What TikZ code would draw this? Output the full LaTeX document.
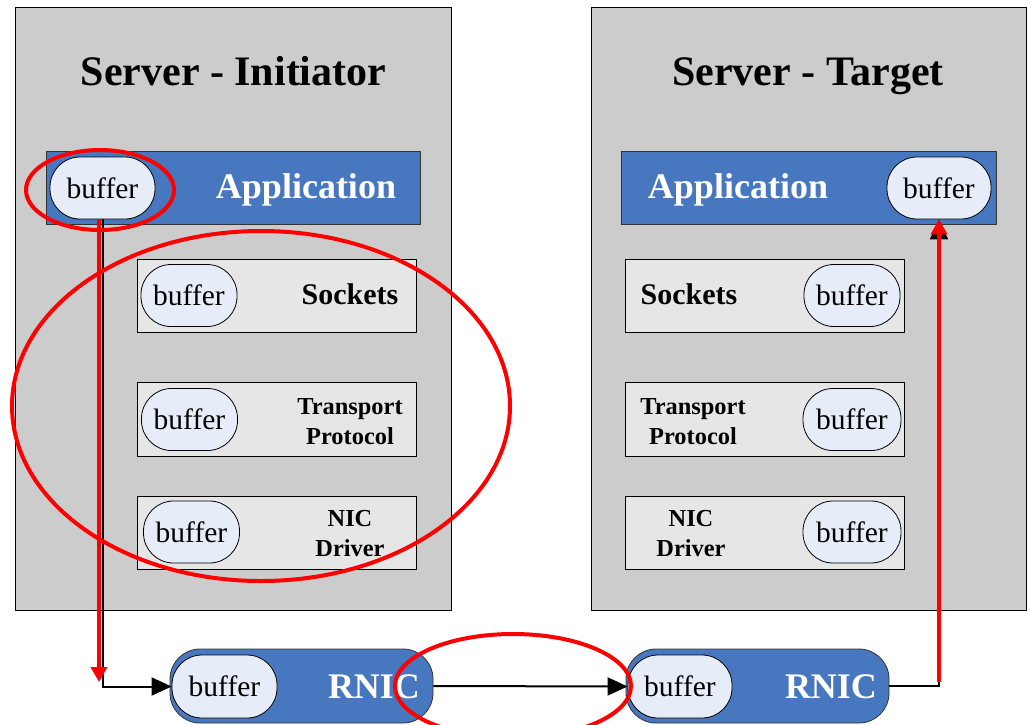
\documentclass[tikz,border=0pt]{standalone}
\usepackage{fontspec}
\setmainfont{Liberation Serif}
\usetikzlibrary{arrows.meta}

\definecolor{srvgray}{HTML}{CCCCCC}
\definecolor{layergray}{HTML}{E6E6E6}
\definecolor{appblue}{HTML}{4777BF}
\definecolor{buffill}{HTML}{E7EDF8}
\definecolor{hlred}{HTML}{FF0000}

\begin{document}
\begin{tikzpicture}[x=1pt,y=-1pt,
  server/.style={draw=black, line width=0.8pt, fill=srvgray, inner sep=0pt,
                 minimum height=603pt},
  title/.style={font=\fontsize{42}{50}\selectfont\bfseries, inner sep=0pt, anchor=base},
  appbar/.style={draw=black!80, line width=0.8pt, fill=appblue, inner sep=0pt,
                 minimum width=374pt, minimum height=73pt},
  layer/.style={draw=black, line width=0.8pt, fill=layergray, inner sep=0pt,
                minimum width=279pt, minimum height=73pt},
  rnicbox/.style={draw=black!80, line width=0.8pt, fill=appblue, inner sep=0pt,
                  rounded corners=30pt, minimum width=263pt, minimum height=74pt},
  bufbox/.style={draw=black, line width=0.8pt, fill=buffill, inner sep=0pt,
                 rounded corners=30pt, minimum width=105pt, minimum height=62pt,
                 font=\fontsize{29.5}{34}\selectfont},
  smallbuf/.style={bufbox, minimum width=96pt},
  whitelbl/.style={text=white, font=\fontsize{36}{42}\selectfont\bfseries, inner sep=0pt, anchor=base},
  sockets/.style={font=\fontsize{30}{36}\selectfont\bfseries, inner sep=0pt, anchor=base},
  twoline/.style={font=\fontsize{24.4}{30}\selectfont\bfseries, align=center, inner sep=0pt},
  conn/.style={draw=black, line width=2pt, -{Triangle[length=20pt,width=18pt]}},
  redarrow/.style={draw=hlred, line width=4pt, -{Triangle[length=15pt,width=16pt]}},
  hl/.style={draw=hlred, line width=4pt}
]
\useasboundingbox (0,0) rectangle (1031,724);

% servers
\node[server, minimum width=436pt] (lsrv) at (233,308.5) {};
\node[server, minimum width=435pt] (rsrv) at (808.5,308.5) {};
\node[title] (ltitle) at (233.5,85) {Server - Initiator};
\node[title] (rtitle) at (808,85) {Server - Target};

% application layers
\node[appbar] (lapp) at (233,187.5) {};
\node[appbar, minimum width=375pt] (rapp) at (808.5,187.5) {};
\node[whitelbl] (lapptxt) at (306,198) {Application};
\node[whitelbl] (rapptxt) at (738,198) {Application};
\node[bufbox] (lappbuf) at (102.5,188) {buffer};
\node[bufbox, minimum width=104pt] (rappbuf) at (939,188) {buffer};

% initiator stack
\node[layer] (lsock) at (276.5,295.5) {};
\node[layer, minimum height=74pt] (ltrans) at (276.5,419) {};
\node[layer] (lnic) at (276.5,532.5) {};
\node[smallbuf] (lsockbuf) at (189,295.5) {buffer};
\node[smallbuf] (ltransbuf) at (189.5,419.5) {buffer};
\node[smallbuf] (lnicbuf) at (191.5,532) {buffer};
\node[sockets] (lsocktxt) at (350,304) {Sockets};
\node[twoline] (ltranstxt) at (350,421.5) {Transport\\Protocol};
\node[twoline] (lnictxt) at (350,534) {NIC\\Driver};

% target stack
\node[layer] (rsock) at (764.5,295.5) {};
\node[layer, minimum height=74pt] (rtrans) at (764.5,419) {};
\node[layer] (rnic) at (764.5,532.5) {};
\node[smallbuf] (rsockbuf) at (852,295.5) {buffer};
\node[smallbuf, minimum width=98pt] (rtransbuf) at (852,419.5) {buffer};
\node[smallbuf, minimum width=98pt] (rnicbuf) at (852,532) {buffer};
\node[sockets] (rsocktxt) at (689,304) {Sockets};
\node[twoline] (rtranstxt) at (693,421.5) {Transport\\Protocol};
\node[twoline] (rnictxt) at (691,534) {NIC\\Driver};

% RDMA NICs
\node[rnicbox] (lrnic) at (301.5,686) {};
\node[rnicbox] (rrnic) at (757.5,686) {};
\node[bufbox, minimum height=63pt] (lrnicbuf) at (224.5,686.5) {buffer};
\node[bufbox, minimum width=104pt, minimum height=63pt] (rrnicbuf) at (680,686.5) {buffer};
\node[whitelbl] (lrnictxt) at (374,698) {RNIC};
\node[whitelbl] (rrnictxt) at (831,698) {RNIC};

% data path
\draw[conn] (lappbuf.south) |- (lrnicbuf.west);
\draw[conn] (lrnic.east) -- (rrnicbuf.west);
\draw[conn] (rrnic.east) -| (rappbuf.south);

% highlighted zero-copy path
\coordinate (downEnd) at (99,682);
\coordinate (upStart) at (939,682);
\draw[redarrow] ([xshift=-3.5pt]lappbuf.south) -- (downEnd);
\draw[redarrow] (upStart) -- (rappbuf.south);

% highlight rings
\draw[hl] (100,190) ellipse [x radius=74, y radius=40];
\draw[hl] (261,406) ellipse [x radius=249, y radius=175];
\draw[hl] (513,686) ellipse [x radius=118, y radius=52];
\end{tikzpicture}
\end{document}
